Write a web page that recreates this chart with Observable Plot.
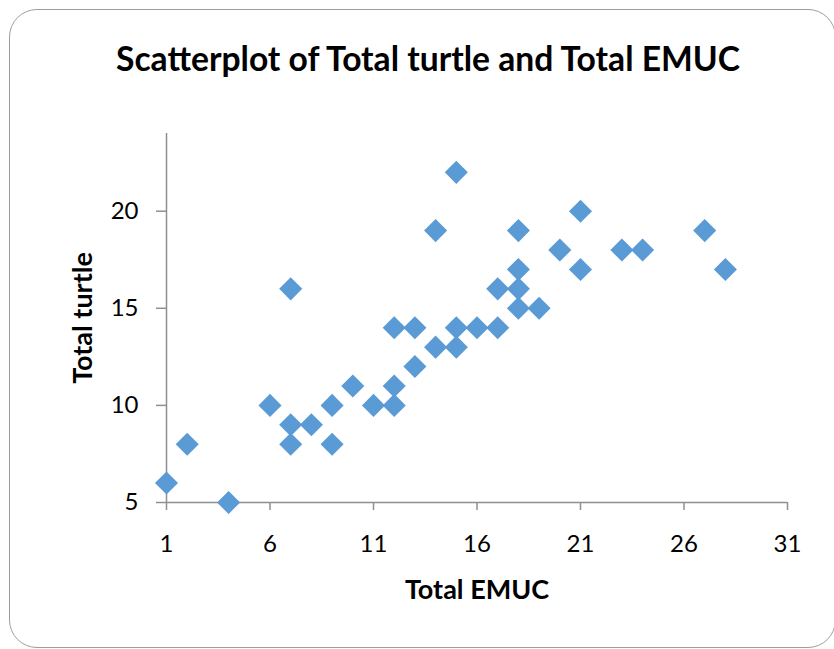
<!DOCTYPE html>
<html>
<head>
<meta charset="utf-8">
<script src="https://cdn.jsdelivr.net/npm/d3@7"></script>
<script src="https://cdn.jsdelivr.net/npm/@observablehq/plot@0.6"></script>
<style>
  html, body { margin: 0; padding: 0; background: #fff; overflow: hidden; }
  body { width: 834px; height: 649px; position: relative; font-family: Lato, "Open Sans", sans-serif; }
  #frame { position: absolute; left: 9px; top: 9px; width: 827px; height: 639px; box-sizing: border-box;
           border: 1.5px solid #9d9d9d; border-radius: 28px; }
  #title { position: absolute; left: 0; top: 0; width: 856px; height: 100px; text-align: center;
           font-weight: bold; color: #000; white-space: nowrap; }
  #title span { position: absolute; left: 0; width: 856px; top: 0; line-height: 1; }
  #chart { position: absolute; left: 0; top: 100px; }
</style>
</head>
<body>
<div id="frame"></div>
<div id="title"><span>Scatterplot of Total turtle and Total EMUC</span></div>
<div id="chart"></div>
<script>
// ---- data ----
const totalEMUC   = [1, 2, 4, 6, 7, 7, 7, 8, 9, 9, 10, 11, 12, 12, 12, 13, 13, 14, 14, 15, 15, 15, 16, 17, 17, 18, 18, 18, 18, 19, 20, 21, 21, 23, 24, 27, 28];
const totalTurtle = [6, 8, 5, 10, 16, 9, 8, 9, 10, 8, 11, 10, 14, 11, 10, 14, 12, 19, 13, 22, 14, 13, 14, 16, 14, 19, 17, 16, 15, 15, 18, 20, 17, 18, 18, 19, 17];
const xTicks = [1, 6, 11, 16, 21, 26, 31];
const yTicks = [5, 10, 15, 20];
const xDomain = [1, 31];
const yDomain = [5, 24];
const titleText = "Scatterplot of Total turtle and Total EMUC";
const xLabel = "Total EMUC";
const yLabel = "Total turtle";

const points = totalEMUC.map((x, i) => ({emuc: x, turtle: totalTurtle[i]}));

// ---- title sizing (fit to reference width) ----
const titleSpan = document.querySelector("#title span");
titleSpan.textContent = titleText;
(function fitTitle() {
  const c = document.createElement("canvas").getContext("2d");
  c.font = "bold 100px Lato";
  const w = c.measureText(titleText).width;
  const size = 100 * 627 / w;
  titleSpan.style.fontSize = size.toFixed(2) + "px";
  // place baseline near y = 72
  titleSpan.style.top = (72 - size * 0.887) + "px";
})();

const axisColor = "#8f8f8f";
const blue = "#5B9BD5";

const chart = Plot.plot({
  width: 834,
  height: 549,
  marginLeft: 166,
  marginRight: 47,
  marginTop: 33,
  marginBottom: 147,
  style: {fontFamily: "Lato, 'Open Sans', sans-serif", color: "#000", background: "transparent", overflow: "visible"},
  x: {domain: xDomain},
  y: {domain: yDomain},
  marks: [
    Plot.ruleX([xDomain[0]], {stroke: axisColor, strokeWidth: 1.5}),
    Plot.ruleY([yDomain[0]], {stroke: axisColor, strokeWidth: 1.5}),
    Plot.axisX({ticks: xTicks, tickSize: 8, tickPadding: 24, stroke: axisColor, strokeWidth: 1.5,
                fill: "#000", fontSize: 24, label: null, tickFormat: d => String(d)}),
    Plot.axisY({ticks: yTicks, tickSize: 10, tickPadding: 18, stroke: axisColor, strokeWidth: 1.5,
                fill: "#000", fontSize: 24, label: null, tickFormat: d => String(d)}),
    Plot.dot(points, {x: "emuc", y: "turtle", symbol: "diamond2", r: 10.4, fill: blue, stroke: "none"}),
    Plot.text([xLabel], {frameAnchor: "bottom", dy: 96, lineAnchor: "bottom", textAnchor: "middle", text: d => d,
                         fontSize: 27, fontWeight: "bold", fill: "#000"}),
    Plot.text([yLabel], {frameAnchor: "left", dx: -83, rotate: -90, lineAnchor: "middle", textAnchor: "middle", text: d => d,
                         fontSize: 27, fontWeight: "bold", fill: "#000"})
  ]
});
document.getElementById("chart").appendChild(chart);
</script>
</body>
</html>
